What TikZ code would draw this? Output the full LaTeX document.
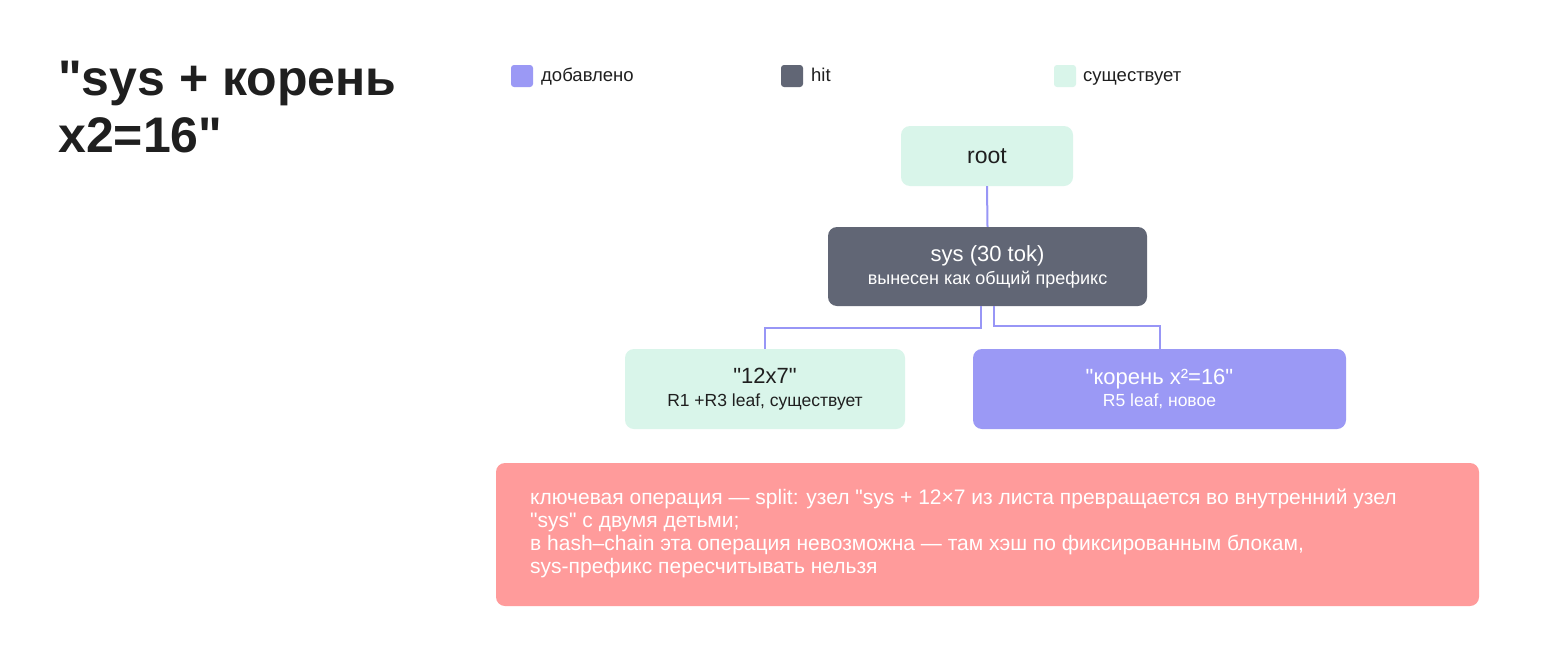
\documentclass[tikz,border=0pt]{standalone}
\usepackage{fontspec}
\setmainfont{Liberation Sans}[Ligatures=TeXOff]
\usetikzlibrary{calc}
\definecolor{purp}{HTML}{9B99F5}
\definecolor{linec}{HTML}{9896F6}
\definecolor{darkg}{HTML}{616675}
\definecolor{mint}{HTML}{D9F5EA}
\definecolor{redb}{HTML}{FF9B9B}
\definecolor{ink}{HTML}{1F1F1F}
\newcommand{\fs}[2]{\fontsize{#1}{#2}\selectfont}
\tikzset{
  box/.style={rounded corners=9pt, inner sep=0pt, align=center, draw=none},
  legsq/.style={rounded corners=3pt, inner sep=0pt, minimum width=22pt, minimum height=22pt},
  legtxt/.style={anchor=base west, inner sep=0pt, text=ink, font=\fs{18.5}{22}},
  conn/.style={draw=linec, line width=2pt},
  title/.style={anchor=base west, inner sep=0pt, text=ink, font=\bfseries\fs{50}{57}}
}
\begin{document}
\begin{tikzpicture}[x=1pt,y=-1pt]
\useasboundingbox (0,0) rectangle (1560,648);
\fill[white] (0,0) rectangle (1560,648);
% title
\node[title] (t1) at (58,95) {"sys + корень};
\node[title] (t2) at (58,152) {x2=16"};
% legend
\node[legsq, fill=purp] (l1) at (522,76) {};
\node[legtxt] (l1t) at (541,81) {добавлено};
\node[legsq, fill=darkg] (l2) at (792,76) {};
\node[legtxt] (l2t) at (811,81) {hit};
\node[legsq, fill=mint] (l3) at (1065,76) {};
\node[legtxt] (l3t) at (1083,81) {существует};
% boxes
\node[box, fill=mint, minimum width=172pt, minimum height=60pt, text=ink, font=\fs{23}{26}] (root) at (987,156) {root};
\node[box, fill=darkg, minimum width=319pt, minimum height=79pt, text=white, font=\fs{18}{23}] (sys) at (987.5,266.5)
  {{\fs{22}{23}sys (30 tok)}\\{\fs{18}{23}вынесен как общий префикс}};
\node[box, fill=mint, minimum width=280pt, minimum height=80pt, text=ink, font=\fs{17.5}{22.5}] (left) at (765,389)
  {{\fs{22}{22.5}"12x7"}\\{\fs{17.5}{22.5}R1 +R3 leaf, существует}};
\node[box, fill=purp, minimum width=373pt, minimum height=80pt, text=white, font=\fs{17.5}{22.5}] (right) at (1159.5,389)
  {{\fs{22}{22.5}"корень x²=16"}\\{\fs{17.5}{22.5}R5 leaf, новое}};
\node[box, fill=redb, minimum width=983pt, minimum height=143pt] (note) at (987.5,534.5) {};
\node[anchor=north west, inner sep=0pt, text=white, align=left, font=\fs{21}{23}] (notet) at (530,489)
  {ключевая операция — split: узел "sys + 12×7 из листа превращается во внутренний узел\\
"sys" с двумя детьми;\\
в hash–chain эта операция невозможна — там хэш по фиксированным блокам,\\
sys-префикс пересчитывать нельзя};
% connectors
\draw[conn] (root.south) -- (sys.north);
\coordinate (sl) at ($(sys.south)+(-7,0)$);
\coordinate (sr) at ($(sys.south)+(6,0)$);
\draw[conn] (sl) -- ++(0,22) -| (left.north);
\draw[conn] (sr) -- ++(0,20) -| (right.north);
\end{tikzpicture}
\end{document}
